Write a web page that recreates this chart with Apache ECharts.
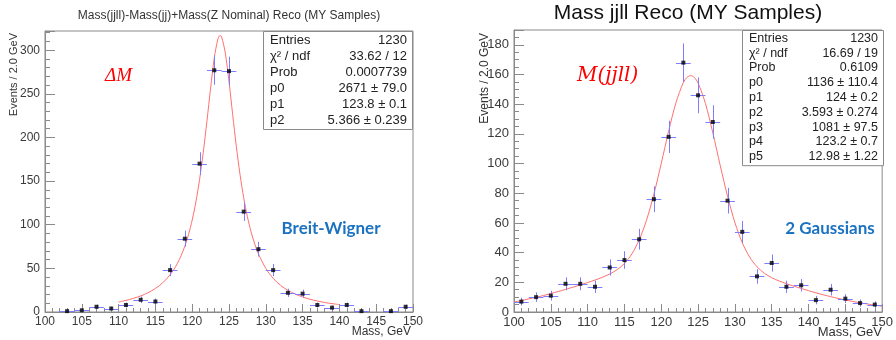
<!DOCTYPE html>
<html>
<head>
<meta charset="utf-8">
<script src="https://cdn.jsdelivr.net/npm/echarts@6/dist/echarts.min.js"></script>
<style>
html,body{margin:0;padding:0;background:#fff;}
#c{width:896px;height:340px;}
</style>
</head>
<body>
<div id="c"></div>
<script>
// ---- data ----
var binCenters = [101,103,105,107,109,111,113,115,117,119,121,123,125,127,129,131,133,135,137,139,141,143,145,147,149];
var leftCounts = [0,1,2,6,4,8,14,12,48,84,170,277,276,115,72,48,22,21,8,5,8,1,0,1,6];
var rightCounts = [7,10,11,19,19,17,30,35,49,76,118,168,146,128,75,54,24,33,17,18,8,15,9,6,5];

var leftFitX = [110,111,112,113,114,115,116,117,117.5,118,118.5,119,119.5,120,120.5,121,121.5,122,122.5,123,123.5,123.8,124,124.5,125,125.5,126,126.5,127,127.5,128,128.5,129,130,131,132,133,134,135,136,137,138,139,140];
var leftFitY = [11.5,13.3,15.6,18.4,22.1,27.0,33.5,42.7,48.7,55.9,64.7,75.4,88.8,105.4,126.1,151.7,182.7,218.5,256.6,291.0,313.0,316.9,315.2,296.7,264.1,226.1,189.5,157.4,130.8,109.2,91.8,77.9,66.6,50.0,38.6,30.6,24.8,20.5,17.2,14.6,12.6,10.9,9.6,8.5];

var rightFitX = [100,102,104,106,108,110,111,112,113,114,115,116,117,118,119,120,121,122,123,123.5,124,124.5,125,126,127,128,129,130,131,132,133,134,135,136,137,138,140,142,144,146,148,150];
var rightFitY = [6.7,8.8,11.1,13.8,16.7,19.9,21.5,23.4,25.6,28.5,32.7,39.1,48.6,61.9,79.4,100.1,121.8,141.1,154.6,158.1,159.3,158.0,154.3,140.5,120.8,98.9,78.0,60.3,46.7,37.0,30.5,26.1,23.1,20.9,19.1,17.4,14.4,11.6,9.2,7.1,5.4,3.9];

var xTicks = [100,105,110,115,120,125,130,135,140,145,150];
var leftStats = [["Entries","1230"],["\u03c7\u00b2 / ndf","33.62 / 12"],["Prob","0.0007739"],["p0","2671 \u00b1 79.0"],["p1","123.8 \u00b1 0.1"],["p2","5.366 \u00b1 0.239"]];
var rightStats = [["Entries","1230"],["\u03c7\u00b2 / ndf","16.69 / 19"],["Prob","0.6109"],["p0","1136 \u00b1 110.4"],["p1","124 \u00b1 0.2"],["p2","3.593 \u00b1 0.274"],["p3","1081 \u00b1 97.5"],["p4","123.2 \u00b1 0.7"],["p5","12.98 \u00b1 1.22"]];

// ---- chart ----
var chart = echarts.init(document.getElementById('c'), null, {renderer:'canvas'});
var FONT = '"Liberation Sans", Arial, Helvetica, sans-serif';

function pairs(xs, ys){ var o=[]; for(var i=0;i<xs.length;i++) o.push([xs[i], ys[i]]); return o; }
function histData(cs, ns){ var o=[]; for(var i=0;i<cs.length;i++) if(ns[i]>0) o.push([cs[i], ns[i]]); return o; }

var ERR_COLOR = '#7d7dff';
function errRender(params, api){
  var x = api.value(0), n = api.value(1), e = Math.sqrt(n);
  var pl = api.coord([x-1, n]), pr = api.coord([x+1, n]);
  var pt = api.coord([x, n+e]), pb = api.coord([x, n-e]);
  var cx = Math.round(pt[0])+0.5, cy = Math.round(pl[1])+0.5;
  return {type:'group', children:[
    {type:'line', shape:{x1:pl[0], y1:cy, x2:pr[0], y2:cy}, style:{stroke:ERR_COLOR, lineWidth:1}},
    {type:'line', shape:{x1:cx, y1:pt[1], x2:cx, y2:pb[1]}, style:{stroke:ERR_COLOR, lineWidth:1}}
  ]};
}

function xAxisCfg(gi, fs){
  return {type:'value', gridIndex:gi, min:100, max:150, interval:5,
    axisLine:{show:true, lineStyle:{color:'#8a8a8a', width:1}},
    axisTick:{show:true, inside:true, length:8, lineStyle:{color:'#8a8a8a'}},
    minorTick:{show:true, splitNumber:5, length:4, lineStyle:{color:'#8a8a8a'}},
    splitLine:{show:false},
    axisLabel:{show:true, margin:4, color:'#3a3a3a', fontFamily:FONT, fontSize:fs,
      formatter:function(v){ return xTicks.indexOf(v)>=0 ? String(v) : ''; }}
  };
}
function yAxisCfg(gi, max, interval, minorSplit, fs){
  return {type:'value', gridIndex:gi, min:0, max:max, interval:interval,
    axisLine:{show:true, lineStyle:{color:'#8a8a8a', width:1}},
    axisTick:{show:true, inside:true, length:10, lineStyle:{color:'#8a8a8a'}},
    minorTick:{show:true, splitNumber:minorSplit, length:5, lineStyle:{color:'#8a8a8a'}},
    splitLine:{show:false},
    axisLabel:{show:true, margin:5, color:'#3a3a3a', fontFamily:FONT, fontSize:fs, showMaxLabel:false}
  };
}

function statBox(x, y, w, rowH, rows, fs){
  var els = [{type:'rect', shape:{x:x+0.5, y:y+0.5, width:w, height:rowH*rows.length+2}, style:{fill:'#fff', stroke:'#8a8a8a', lineWidth:1}, z:100}];
  for(var i=0;i<rows.length;i++){
    var cy = y + 1 + rowH*(i+0.5);
    els.push({type:'text', z:101, style:{text:rows[i][0], x:x+7, y:cy, textAlign:'left', textVerticalAlign:'middle', font:fs+'px '+FONT, fill:'#222'}});
    els.push({type:'text', z:101, style:{text:rows[i][1], x:x+w-5, y:cy, textAlign:'right', textVerticalAlign:'middle', font:fs+'px '+FONT, fill:'#222'}});
  }
  return els;
}

var graphics = [];
// titles
graphics.push({type:'text', style:{text:'Mass(jjll)-Mass(jj)+Mass(Z Nominal) Reco (MY Samples)', x:229, y:16, textAlign:'center', textVerticalAlign:'middle', font:'12px '+FONT, fill:'#333'}});
graphics.push({type:'text', style:{text:'Mass jjll Reco (MY Samples)', x:688, y:13, textAlign:'center', textVerticalAlign:'middle', font:'21px '+FONT, fill:'#111'}});
// axis titles
graphics.push({type:'text', x:14, y:33, rotation:Math.PI/2, style:{text:'Events / 2.0 GeV', x:0, y:0, textAlign:'right', textVerticalAlign:'middle', font:'11px '+FONT, fill:'#333'}});
graphics.push({type:'text', x:485, y:33, rotation:Math.PI/2, style:{text:'Events / 2.0 GeV', x:0, y:0, textAlign:'right', textVerticalAlign:'middle', font:'12px '+FONT, fill:'#333'}});
graphics.push({type:'text', style:{text:'Mass, GeV', x:411, y:332, textAlign:'right', textVerticalAlign:'middle', font:'12px '+FONT, fill:'#333'}});
graphics.push({type:'text', style:{text:'Mass, GeV', x:882, y:332, textAlign:'right', textVerticalAlign:'middle', font:'13px '+FONT, fill:'#333'}});
// annotations
graphics.push({type:'text', style:{text:'\u0394M', x:105, y:76, textAlign:'left', textVerticalAlign:'middle', font:'italic 19px "Liberation Serif", "DejaVu Serif", serif', fill:'#ff0000'}});
graphics.push({type:'text', style:{text:'M(jjll)', x:577, y:76, textAlign:'left', textVerticalAlign:'middle', font:'italic 20px "DejaVu Serif", "Liberation Serif", serif', fill:'#ff0000'}});
graphics.push({type:'text', style:{text:'Breit-Wigner', x:331, y:229, textAlign:'center', textVerticalAlign:'middle', font:'bold 17px Lato, "Open Sans", sans-serif', fill:'#1a72c0'}});
graphics.push({type:'text', style:{text:'2 Gaussians', x:830, y:229, textAlign:'center', textVerticalAlign:'middle', font:'bold 17px Lato, "Open Sans", sans-serif', fill:'#1a72c0'}});
// stat boxes
graphics = graphics.concat(statBox(263, 31, 149, 16, leftStats, 13));
graphics = graphics.concat(statBox(742, 30, 141, 14.8, rightStats, 12.5));

var option = {
  animation:false,
  backgroundColor:'#fff',
  grid:[
    {left:45, top:31, width:368, height:281, show:true, borderColor:'#8a8a8a', borderWidth:1, backgroundColor:'transparent'},
    {left:514, top:30, width:369, height:282, show:true, borderColor:'#8a8a8a', borderWidth:1, backgroundColor:'transparent'}
  ],
  xAxis:[xAxisCfg(0, 12), xAxisCfg(1, 13)],
  yAxis:[yAxisCfg(0, 322, 50, 5, 12), yAxisCfg(1, 190, 20, 4, 13)],
  series:[
    {type:'custom', xAxisIndex:0, yAxisIndex:0, renderItem:errRender, data:histData(binCenters, leftCounts), z:3},
    {type:'line', xAxisIndex:0, yAxisIndex:0, data:pairs(leftFitX, leftFitY), smooth:0.3, showSymbol:false, symbol:'none', lineStyle:{color:'#ff7070', width:1}, z:2},
    {type:'scatter', xAxisIndex:0, yAxisIndex:0, data:histData(binCenters, leftCounts), symbol:'rect', symbolSize:4, itemStyle:{color:'#000'}, z:4},
    {type:'custom', xAxisIndex:1, yAxisIndex:1, renderItem:errRender, data:histData(binCenters, rightCounts), z:3},
    {type:'line', xAxisIndex:1, yAxisIndex:1, data:pairs(rightFitX, rightFitY), smooth:0.3, showSymbol:false, symbol:'none', lineStyle:{color:'#ff7070', width:1}, z:2},
    {type:'scatter', xAxisIndex:1, yAxisIndex:1, data:histData(binCenters, rightCounts), symbol:'rect', symbolSize:4, itemStyle:{color:'#000'}, z:4}
  ],
  graphic:{elements:graphics}
};
chart.setOption(option);
</script>
</body>
</html>
